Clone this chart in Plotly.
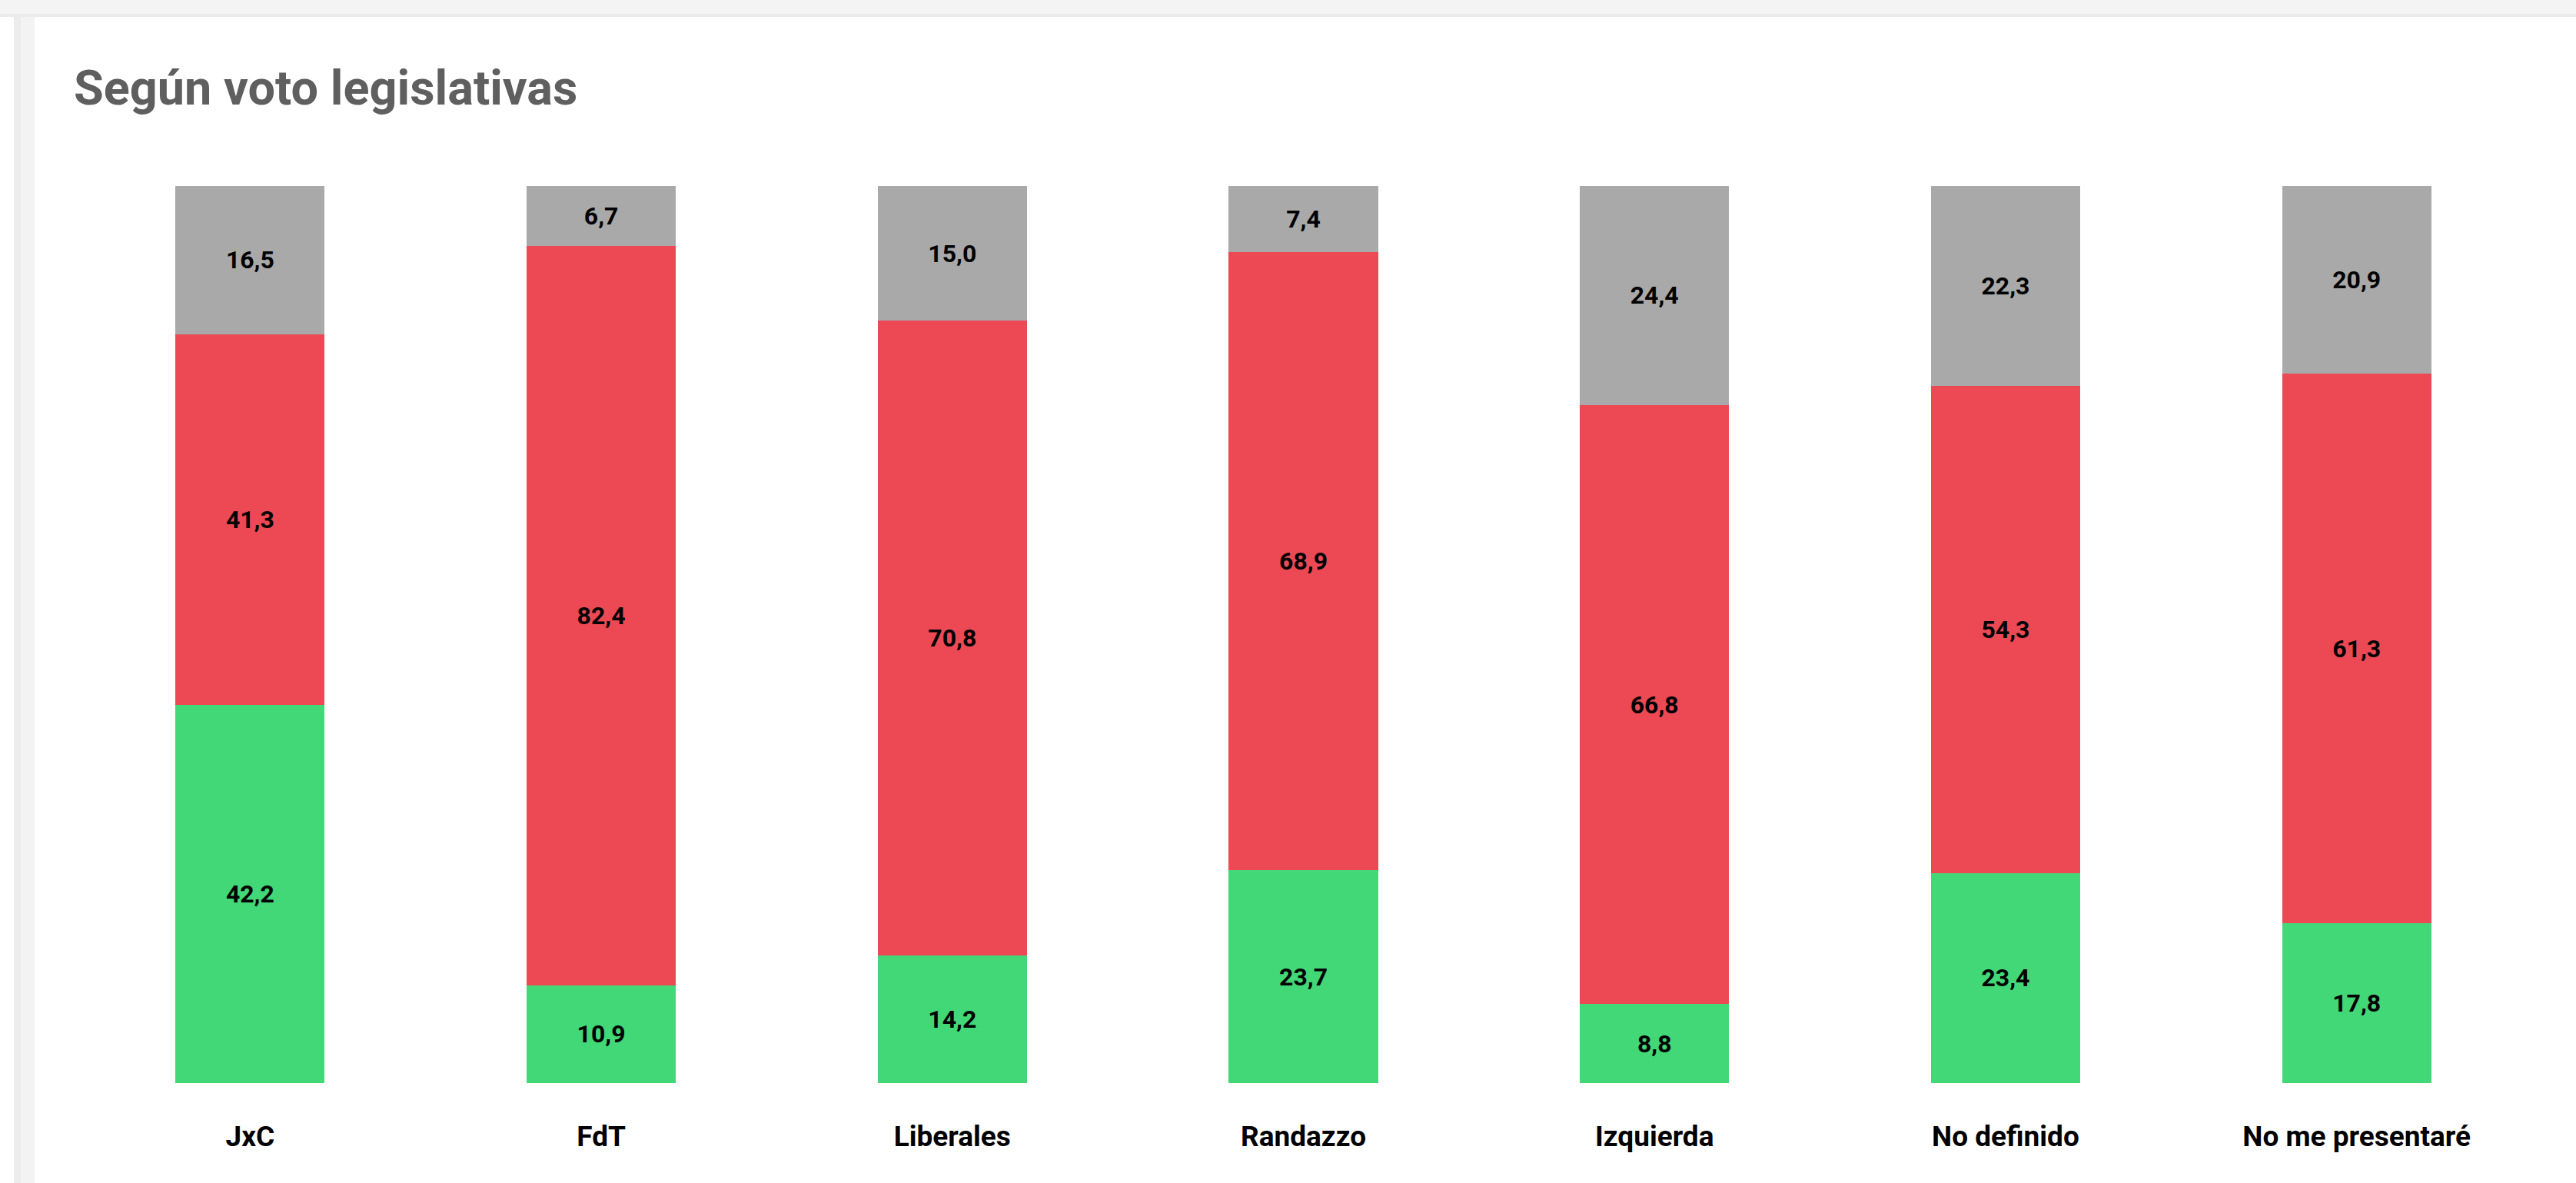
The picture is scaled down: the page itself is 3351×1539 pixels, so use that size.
import plotly.graph_objects as go

categories = ["JxC", "FdT", "Liberales", "Randazzo", "Izquierda", "No definido", "No me presentaré"]
verde = [42.2, 10.9, 14.2, 23.7, 8.8, 23.4, 17.8]
rojo = [41.3, 82.4, 70.8, 68.9, 66.8, 54.3, 61.3]
gris = [16.5, 6.7, 15.0, 7.4, 24.4, 22.3, 20.9]
title_text = "Según voto legislativas"

W, H = 3351, 1539
L, R, T, B = 97, 57, 242, 130
PW, PH = W - L - R, H - T - B

def px_x(x):
    return (x - L) / PW

def px_y(y):
    return (H - B - y) / PH

fig = go.Figure()
series = [
    ("Verde", verde, "rgb(66,216,119)"),
    ("Rojo", rojo, "rgb(236,73,85)"),
    ("Gris", gris, "rgb(169,169,169)"),
]
for name, vals, col in series:
    fig.add_trace(go.Bar(
        name=name, x=categories, y=vals,
        marker=dict(color=col, line=dict(width=0)),
        texttemplate="%{y:.1f}", textposition="inside",
        insidetextanchor="middle", textangle=0, constraintext="none",
        textfont=dict(family="Roboto", size=32, color="black", weight="bold"),
    ))

shapes = [
    dict(type="rect", xref="paper", yref="paper", x0=px_x(0), x1=px_x(W), y0=px_y(0), y1=px_y(22),
         fillcolor="#f4f4f4", line=dict(width=0), layer="below"),
    dict(type="rect", xref="paper", yref="paper", x0=px_x(0), x1=px_x(W), y0=px_y(18), y1=px_y(22),
         fillcolor="#ebebeb", line=dict(width=0), layer="below"),
    dict(type="rect", xref="paper", yref="paper", x0=px_x(18), x1=px_x(27), y0=px_y(22), y1=px_y(H),
         fillcolor="#ececec", line=dict(width=0), layer="below"),
    dict(type="rect", xref="paper", yref="paper", x0=px_x(27), x1=px_x(45), y0=px_y(22), y1=px_y(H),
         fillcolor="#f3f3f3", line=dict(width=0), layer="below"),
]

fig.update_layout(
    width=W, height=H,
    barmode="stack", bargap=0.575,
    separators=",.",
    showlegend=False,
    plot_bgcolor="white", paper_bgcolor="white",
    margin=dict(l=L, r=R, t=T, b=B),
    title=dict(text=title_text, xref="container", yref="container",
               x=96 / W, xanchor="left", y=1 - 114 / H, yanchor="middle",
               font=dict(family="Roboto", size=63, color="#5f5f5f", weight="bold")),
    xaxis=dict(showgrid=False, showline=False, ticks="", zeroline=False,
               tickfont=dict(family="Roboto", size=37, color="black", weight="bold"),
               ticklabelstandoff=44),
    yaxis=dict(range=[0, 100], visible=False, showgrid=False, zeroline=False),
    shapes=shapes,
    uniformtext=dict(mode=False),
)

fig.write_html("out.html", config={"displayModeBar": False},
               post_script="document.body.style.margin='0';document.body.style.overflow='hidden';")
